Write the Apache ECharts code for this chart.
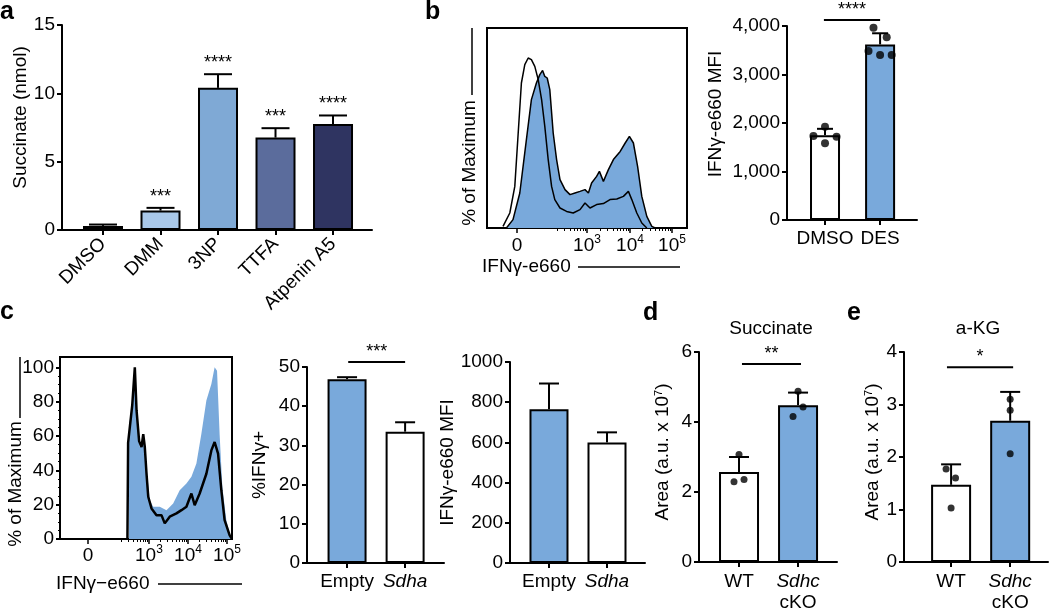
<!DOCTYPE html>
<html><head><meta charset="utf-8">
<script src="https://cdn.jsdelivr.net/npm/echarts@6/dist/echarts.min.js"></script>
<style>html,body{margin:0;padding:0;background:#fff}#c{width:1050px;height:614px}</style>
</head><body><div id="c"></div>
<script>
// ---------- DATA ----------
// Panel a
const aCategories = ['DMSO', 'DMM', '3NP', 'TTFA', 'Atpenin A5'];
const aMeans = [0.3, 1.42, 10.4, 6.76, 7.75];
const aErrTop = [0.4, 1.62, 11.4, 7.45, 8.38];
const aSig = ['', '***', '****', '***', '****'];

// Panel b histogram (x in display channel units 0-100, y in % of maximum)
const bHistTickPos = [15, 50, 71.5, 92.5];
const bHistTickLabels = ['0', '10{s|3}', '10{s|4}', '10{s|5}'];
const bHistDecades = [28.5, 50, 71.5, 92.5];
const bDmsoCurve = [[8.0,0.8],[11.4,7.5],[13.9,20.8],[15.6,47.5],[17.2,72.5],[18.9,81.7],[20.6,85.0],[22.2,84.2],[23.9,80.8],[25.6,74.2],[27.3,64.2],[28.9,50.8],[30.6,34.2],[32.3,20.8],[33.9,14.2],[36.5,10.0],[39.8,8.3],[43.1,7.5],[46.5,9.2],[49.0,12.5],[51.5,10.0],[54.8,11.7],[58.2,12.2],[61.5,14.2],[64.9,14.5],[68.2,15.8],[70.7,18.3],[72.4,14.2],[74.9,7.5],[77.4,2.5],[79.9,0]];
const bDesCurve = [[9.7,0],[13.0,4.2],[16.4,17.5],[19.7,44.2],[22.2,64.2],[24.7,72.5],[26.4,76.7],[27.8,78.8],[28.9,75.8],[30.1,75.0],[31.4,69.2],[33.1,47.5],[34.8,34.2],[36.5,24.2],[39.0,19.2],[41.5,16.7],[44.0,17.5],[46.5,18.3],[49.0,19.2],[50.7,17.5],[52.3,22.5],[54.8,25.8],[56.2,28.3],[58.2,23.3],[60.7,29.2],[63.2,34.2],[66.6,38.3],[69.1,42.5],[71.2,45.8],[73.2,42.5],[75.3,30.8],[77.4,15.8],[79.9,5.8],[82.4,0.8],[84.1,0]];

// Panel b bars
const bCategories = ['DMSO', 'DES'];
const bMeans = [1750, 3620];
const bErrTop = [1880, 3850];
const bDots = [[-0.21,1732],[0,1924],[0.21,1718],[0,1581],[0.88,3966],[1.12,3766],[0.79,3485],[1.0,3402],[1.21,3402]];
const bSigLine = [-0.02, 1.0, 4124];

// Panel c histogram
const cHistTickPos = [16.3, 51.7, 74.4, 97.1];
const cHistTickLabels = ['0', '10{s|3}', '10{s|4}', '10{s|5}'];
const cHistDecades = [29, 51.7, 74.4, 97.1];
const cHistYTicks = [0, 20, 40, 60, 80, 100];
const cHistYMinor = [5, 10, 15, 25, 30, 35, 45, 50, 55, 65, 70, 75, 85, 90, 95];
const cEmptyCurve = [[40.1,0],[40.2,67],[41.6,75],[43.5,100],[44.9,69],[46.4,53.6],[48.4,59],[50.3,42],[52.2,22.6],[54.2,18.8],[58.0,18.8],[61.9,16.8],[65.8,20.7],[69.6,28.4],[73.5,32.3],[76.4,36.2],[79.3,43.9],[82.2,61.3],[85.1,80.7],[88.0,90.3],[89.9,100],[91.3,98],[92.8,61],[94.4,30],[96.7,11],[98.6,3.3],[100,0]];
const cSdhaCurve = [[39.2,0],[39.6,56],[40.6,56],[42.0,78],[43.5,100],[44.5,75],[46.0,57],[47.4,53.6],[48.4,61],[49.3,53.6],[50.3,38],[51.3,24.6],[53.2,17.8],[56.1,13.9],[59.0,13.9],[60.9,9.1],[63.8,13],[67.7,14.9],[70.6,16.8],[73.5,18.8],[76.4,26.5],[78.3,19.7],[81.2,26.5],[85.1,38],[88.0,51.6],[89.9,56.5],[91.9,49.7],[93.8,28.4],[95.7,11],[98.6,2.3],[100,0]];

// Panel c bars
const cCategories = ['Empty', '{i|Sdha}'];
const cPctMeans = [46.9, 33.5];
const cPctErrTop = [47.4, 35.9];
const cPctSigLine = [0.02, 1.0, 51.3];
const cMfiMeans = [765, 600];
const cMfiErrTop = [893, 650];

// Panel d
const dCategories = ['WT', '{i|Sdhc}\ncKO'];
const dMeans = [2.57, 4.48];
const dErrTop = [3.0, 4.84];
const dDots = [[0,3.07],[-0.085,2.29],[0.085,2.36],[1.0,4.88],[1.085,4.43],[0.915,4.16]];
const dSigLine = [0.05, 1.05, 5.66];

// Panel e
const eCategories = ['WT', '{i|Sdhc}\ncKO'];
const eMeans = [1.47, 2.69];
const eErrTop = [1.86, 3.24];
const eDots = [[-0.085,1.77],[0.075,1.6],[0,1.03],[1.0,3.1],[1.0,2.89],[1.0,2.06]];
const eSigLine = [-0.07, 1.05, 3.71];

// ---------- STYLE ----------
const FONT = '"Liberation Sans", Arial, Helvetica, sans-serif';
const FS = 19;
const BLUE = '#79a9db';
const aColors = ['#eef2f7', '#a9c8e9', '#7fa9d5', '#5b6c9c', '#2f3461'];
const BLK = '#000';

function minorTicks(dec) {
  const out = [];
  for (let i = 0; i < dec.length - 1; i++) {
    for (let k = 2; k <= 9; k++) out.push(dec[i] + Math.log10(k) * (dec[i + 1] - dec[i]));
  }
  return out;
}

function barX(gridIndex, min, max, labels, extra) {
  const idx = labels.map((_, i) => i);
  return {
    type: 'value', gridIndex, min, max,
    axisLine: { show: true, onZero: false, lineStyle: { color: BLK, width: 2 } },
    axisTick: { show: true, customValues: idx, length: 5, lineStyle: { color: BLK, width: 2 } },
    axisLabel: Object.assign({ customValues: idx, formatter: v => labels[Math.round(v)], color: BLK,
      fontFamily: FONT, fontSize: FS, margin: 8, lineHeight: 21,
      rich: { i: { fontStyle: 'italic', fontSize: FS, fontFamily: FONT, color: BLK, lineHeight: 21 } } }, (extra || {})),
    splitLine: { show: false }
  };
}
function barY(gridIndex, max, interval, name, nameGap, fmt, shiftUp) {
  return {
    type: 'value', gridIndex, min: 0, max, interval, name, nameLocation: 'middle', nameGap, nameRotate: 90,
    nameTextStyle: { color: BLK, fontFamily: FONT, fontSize: FS, padding: [0, 0, 0, shiftUp || 0],
      rich: { s: { fontSize: 11, verticalAlign: 'top', fontFamily: FONT, color: BLK } } },
    axisLine: { show: true, onZero: false, lineStyle: { color: BLK, width: 2 } },
    axisTick: { show: true, length: 5, lineStyle: { color: BLK, width: 2 } },
    axisLabel: { color: BLK, fontFamily: FONT, fontSize: FS, margin: 7, formatter: fmt || (v => String(v)) },
    splitLine: { show: false }
  };
}
function errSeries(ai, means, tops, cap) {
  return {
    type: 'custom', xAxisIndex: ai, yAxisIndex: ai, z: 4, silent: true,
    data: means.map((m, i) => [i, m, tops[i]]),
    encode: { x: 0, y: [1, 2] },
    renderItem(params, api) {
      const p0 = api.coord([api.value(0), api.value(1)]);
      const p1 = api.coord([api.value(0), api.value(2)]);
      return { type: 'group', children: [
        { type: 'line', shape: { x1: p0[0], y1: p0[1], x2: p1[0], y2: p1[1] }, style: { stroke: BLK, lineWidth: 2 } },
        { type: 'line', shape: { x1: p1[0] - cap, y1: p1[1], x2: p1[0] + cap, y2: p1[1] }, style: { stroke: BLK, lineWidth: 2 } }
      ] };
    }
  };
}
function sigSeries(ai, line, text) {
  return {
    type: 'custom', xAxisIndex: ai, yAxisIndex: ai, z: 4, silent: true,
    data: [line], encode: { x: [0, 1], y: 2 },
    renderItem(params, api) {
      const a = api.coord([api.value(0), api.value(2)]);
      const b = api.coord([api.value(1), api.value(2)]);
      return { type: 'group', children: [
        { type: 'line', shape: { x1: a[0], y1: a[1], x2: b[0], y2: b[1] }, style: { stroke: BLK, lineWidth: 2 } },
        { type: 'text', x: (a[0] + b[0]) / 2, y: a[1] - 1,
          style: { text, align: 'center', verticalAlign: 'bottom', fontSize: 18, fontFamily: FONT, fill: BLK } }
      ] };
    }
  };
}
function barSeries(ai, means, colors, width) {
  return {
    type: 'bar', xAxisIndex: ai, yAxisIndex: ai, barWidth: width, z: 2, silent: true,
    data: means.map((m, i) => ({ value: [i, m], itemStyle: { color: colors[i] } })),
    itemStyle: { borderColor: BLK, borderWidth: 2 }
  };
}
function dotSeries(ai, dots, size) {
  return { type: 'scatter', xAxisIndex: ai, yAxisIndex: ai, z: 5, silent: true, symbol: 'circle',
    symbolSize: size, itemStyle: { color: BLK }, data: dots };
}
function flowX(gridIndex, pos, labels, margin) {
  return {
    type: 'value', gridIndex, min: 0, max: 100,
    axisLine: { show: true, onZero: false, lineStyle: { color: BLK, width: 2 } },
    axisTick: { show: true, customValues: pos, length: 5, lineStyle: { color: BLK, width: 1.5 } },
    axisLabel: { customValues: pos, formatter: v => labels[pos.indexOf(v)], color: BLK, fontFamily: FONT,
      fontSize: FS, margin, lineHeight: 24,
      rich: { s: { fontSize: 12, verticalAlign: 'top', fontFamily: FONT, color: BLK } } },
    splitLine: { show: false }
  };
}
function flowMinorX(gridIndex, dec) {
  return {
    type: 'value', gridIndex, min: 0, max: 100, position: 'bottom',
    axisLine: { show: false },
    axisTick: { show: true, customValues: minorTicks(dec), length: 3, lineStyle: { color: BLK, width: 1 } },
    axisLabel: { show: false }, splitLine: { show: false }
  };
}

const chart = echarts.init(document.getElementById('c'));
const option = {
  animation: false,
  backgroundColor: '#fff',
  grid: [
    { left: 62, top: 25, width: 310, height: 205 },                          // a
    { left: 487, top: 28, width: 200, height: 200, show: true, borderColor: BLK, borderWidth: 2, backgroundColor: 'transparent' }, // b hist
    { left: 787, top: 26, width: 130, height: 194 },                         // b bar
    { left: 60, top: 357, width: 172, height: 182, show: true, borderColor: BLK, borderWidth: 2, backgroundColor: 'transparent' }, // c hist
    { left: 307, top: 367, width: 137, height: 196 },                        // c pct
    { left: 510, top: 362, width: 135, height: 201 },                        // c mfi
    { left: 699, top: 352, width: 138, height: 210 },                        // d
    { left: 904, top: 352, width: 144, height: 210 }                         // e
  ],
  xAxis: [
    barX(0, -0.713, 4.678, aCategories, { rotate: 45, margin: 11 }),
    flowX(1, bHistTickPos, bHistTickLabels, 6),
    barX(2, -0.69, 1.67, bCategories),
    flowX(3, cHistTickPos, cHistTickLabels, 5),
    barX(4, -0.69, 1.67, cCategories),
    barX(5, -0.672, 1.655, cCategories),
    barX(6, -0.678, 1.66, dCategories, { margin: 9 }),
    barX(7, -0.797, 1.64, eCategories, { margin: 9 }),
    flowMinorX(1, bHistDecades),
    flowMinorX(3, cHistDecades)
  ],
  yAxis: [
    barY(0, 15, 5, 'Succinate (nmol)', 31, null, 20),
    { type: 'value', gridIndex: 1, min: 0, max: 100, show: false },
    barY(2, 4000, 1000, 'IFNγ-e660 MFI', 62, v => v.toLocaleString('en-US'), 18),
    { type: 'value', gridIndex: 3, min: 0, max: 106,
      axisLine: { show: true, onZero: false, lineStyle: { color: BLK, width: 2 } },
      axisTick: { show: true, customValues: cHistYTicks, length: 4, lineStyle: { color: BLK, width: 2 } },
      axisLabel: { customValues: cHistYTicks, color: BLK, fontFamily: FONT, fontSize: FS, margin: 6 },
      splitLine: { show: false } },
    barY(4, 50, 10, '%IFNγ+', 38),
    barY(5, 1000, 200, 'IFNγ-e660 MFI', 44),
    barY(6, 6, 2, 'Area (a.u. x 10{s|7})', 27, null, 10),
    barY(7, 4, 1, 'Area (a.u. x 10{s|7})', 21, null, 10),
    { type: 'value', gridIndex: 3, min: 0, max: 106, position: 'left',
      axisLine: { show: false },
      axisTick: { show: true, customValues: cHistYMinor, length: 2, lineStyle: { color: BLK, width: 1 } },
      axisLabel: { show: false }, splitLine: { show: false } }
  ],
  series: [
    // a
    barSeries(0, aMeans, aColors, 40),
    errSeries(0, aMeans, aErrTop, 14),
    { type: 'custom', xAxisIndex: 0, yAxisIndex: 0, z: 4, silent: true,
      data: aErrTop.map((t, i) => [i, t]), encode: { x: 0, y: 1 },
      renderItem(params, api) {
        const p = api.coord([api.value(0), api.value(1)]);
        return { type: 'text', x: p[0], y: p[1] - 2,
          style: { text: aSig[params.dataIndex], align: 'center', verticalAlign: 'bottom', fontSize: 18, fontFamily: FONT, fill: BLK } };
      } },
    // b hist
    { type: 'line', xAxisIndex: 1, yAxisIndex: 1, data: bDesCurve, symbol: 'none', z: 2, silent: true,
      lineStyle: { color: BLK, width: 1.5 }, areaStyle: { color: BLUE, opacity: 1 } },
    { type: 'line', xAxisIndex: 1, yAxisIndex: 1, data: bDmsoCurve, symbol: 'none', z: 3, silent: true,
      lineStyle: { color: BLK, width: 1.5 } },
    // b bar
    barSeries(2, bMeans, ['#fff', BLUE], 30),
    errSeries(2, bMeans, bErrTop, 8),
    dotSeries(2, bDots, 8),
    sigSeries(2, bSigLine, '****'),
    // c hist
    { type: 'line', xAxisIndex: 3, yAxisIndex: 3, data: cEmptyCurve, symbol: 'none', z: 2, silent: true,
      lineStyle: { width: 0, color: BLUE }, areaStyle: { color: BLUE, opacity: 1 } },
    { type: 'line', xAxisIndex: 3, yAxisIndex: 3, data: cSdhaCurve, symbol: 'none', z: 3, silent: true,
      lineStyle: { color: BLK, width: 2.5 } },
    // c pct
    barSeries(4, cPctMeans, [BLUE, '#fff'], 39),
    errSeries(4, cPctMeans, cPctErrTop, 10),
    sigSeries(4, cPctSigLine, '***'),
    // c mfi
    barSeries(5, cMfiMeans, [BLUE, '#fff'], 39),
    errSeries(5, cMfiMeans, cMfiErrTop, 10),
    // d
    barSeries(6, dMeans, ['#fff', BLUE], 40),
    errSeries(6, dMeans, dErrTop, 10),
    dotSeries(6, dDots, 7),
    sigSeries(6, dSigLine, '**'),
    // e
    barSeries(7, eMeans, ['#fff', BLUE], 40),
    errSeries(7, eMeans, eErrTop, 10),
    dotSeries(7, eDots, 7),
    sigSeries(7, eSigLine, '*')
  ],
  graphic: [
    { type: 'text', left: 0, top: 0, style: { text: 'a', font: 'bold 25px ' + FONT, fill: BLK } },
    { type: 'text', left: 425, top: 0, style: { text: 'b', font: 'bold 25px ' + FONT, fill: BLK } },
    { type: 'text', left: 0, top: 300, style: { text: 'c', font: 'bold 25px ' + FONT, fill: BLK } },
    { type: 'text', left: 643, top: 301, style: { text: 'd', font: 'bold 25px ' + FONT, fill: BLK } },
    { type: 'text', left: 847, top: 301, style: { text: 'e', font: 'bold 25px ' + FONT, fill: BLK } },
    { type: 'text', x: 771, y: 329, style: { text: 'Succinate', align: 'center', verticalAlign: 'middle', font: '19px ' + FONT, fill: BLK } },
    { type: 'text', x: 978, y: 329, style: { text: 'a-KG', align: 'center', verticalAlign: 'middle', font: '19px ' + FONT, fill: BLK } },
    // flow axis titles
    { type: 'text', x: 470, y: 163, rotation: Math.PI / 2, style: { text: '% of Maximum', align: 'center', verticalAlign: 'middle', font: '19px ' + FONT, fill: BLK } },
    { type: 'line', shape: { x1: 472, y1: 28, x2: 472, y2: 95 }, style: { stroke: BLK, lineWidth: 1.5 } },
    { type: 'text', x: 482, y: 267, style: { text: 'IFNγ-e660', align: 'left', verticalAlign: 'middle', font: '19px ' + FONT, fill: BLK } },
    { type: 'line', shape: { x1: 578, y1: 267, x2: 680, y2: 267 }, style: { stroke: BLK, lineWidth: 1.5 } },
    { type: 'text', x: 16, y: 484, rotation: Math.PI / 2, style: { text: '% of Maximum', align: 'center', verticalAlign: 'middle', font: '19px ' + FONT, fill: BLK } },
    { type: 'line', shape: { x1: 20, y1: 357, x2: 20, y2: 418 }, style: { stroke: BLK, lineWidth: 1.5 } },
    { type: 'text', x: 56, y: 584, style: { text: 'IFNγ−e660', align: 'left', verticalAlign: 'middle', font: '19px ' + FONT, fill: BLK } },
    { type: 'line', shape: { x1: 158, y1: 584, x2: 242, y2: 584 }, style: { stroke: BLK, lineWidth: 1.5 } }
  ]
};
chart.setOption(option);
</script>
</body></html>
